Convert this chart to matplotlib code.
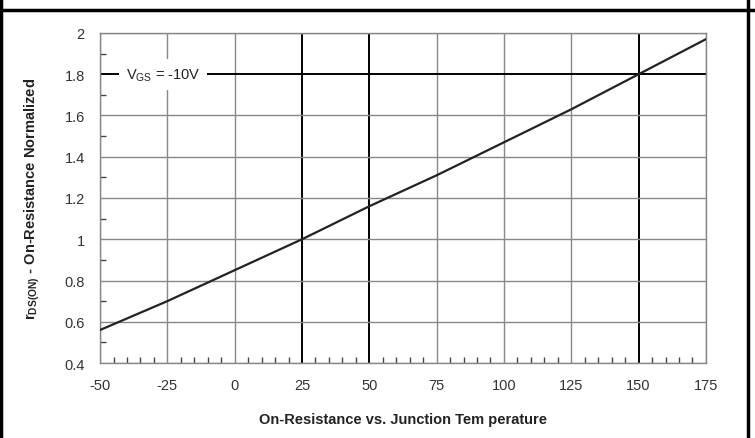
import numpy as np
import matplotlib.pyplot as plt
from matplotlib.lines import Line2D
from matplotlib.ticker import MultipleLocator

# normalized on-resistance vs junction temperature
temp = [-50, -25, 0, 25, 50, 75, 100, 125, 150, 175]
rds_norm = [0.56, 0.70, 0.85, 1.00, 1.16, 1.31, 1.47, 1.63, 1.80, 1.97]

x_ticks = [-50, -25, 0, 25, 50, 75, 100, 125, 150, 175]
y_ticks = [0.4, 0.6, 0.8, 1.0, 1.2, 1.4, 1.6, 1.8, 2.0]
y_ticklabels = ['0.4', '0.6', '0.8', '1', '1.2', '1.4', '1.6', '1.8', '2']
bold_x = [25, 50, 150]
bold_y = [1.8]

plt.rcParams['font.family'] = ['Liberation Sans', 'DejaVu Sans']
plt.rcParams['axes.unicode_minus'] = False

fig = plt.figure(figsize=(7.55, 4.39), dpi=100)
ax = fig.add_axes([0.1325, 0.1708, 0.8025, 0.7518])

# grid: thin grey lines, a few heavy black ones
for x in x_ticks:
    if x in bold_x:
        ax.axvline(x, color='black', lw=1.4, zorder=1)
    else:
        ax.axvline(x, color='#888888', lw=1.0, zorder=1)
for y in y_ticks:
    if y in bold_y:
        ax.axhline(y, color='black', lw=1.4, zorder=1)
    else:
        ax.axhline(y, color='#888888', lw=1.0, zorder=1)

ax.plot(temp, rds_norm, color='#222222', lw=1.6, zorder=3)

ax.set_xlim(-50, 175)
ax.set_ylim(0.4, 2.0)
ax.set_xticks(x_ticks)
ax.set_yticks(y_ticks)
ax.set_yticklabels(y_ticklabels)
ax.xaxis.set_minor_locator(MultipleLocator(5))
ax.yaxis.set_minor_locator(MultipleLocator(0.1))
ax.tick_params(which='major', length=0, labelsize=10.5, colors='#333333', pad=11)
ax.tick_params(which='minor', direction='in', length=4, width=1.0, color='#444444')
for s in ax.spines.values():
    s.set_color('#888888')
    s.set_linewidth(1.0)

ax.text(-40.5, 1.8, 'V$_{\\mathregular{GS}}$ = -10V', fontsize=10.5, va='center', ha='left',
        color='#222222', zorder=4,
        bbox=dict(facecolor='white', edgecolor='none', pad=5))

ax.set_xlabel('On-Resistance vs. Junction Tem perature', fontsize=10.5,
              fontweight='bold', color='#222222', labelpad=14)
ax.set_ylabel('r$_{\\mathregular{DS(ON)}}$ - On-Resistance Normalized', fontsize=10.5,
              fontweight='bold', color='#222222', labelpad=16)

# outer frame
fig.add_artist(Line2D([0, 1], [0.975, 0.975], color='black', lw=2.5, transform=fig.transFigure))
fig.add_artist(Line2D([0.0015, 0.0015], [0, 1], color='black', lw=2.5, transform=fig.transFigure))
fig.add_artist(Line2D([0.9905, 0.9905], [0, 1], color='black', lw=2.5, transform=fig.transFigure))

fig.savefig('out.png', dpi=100)
